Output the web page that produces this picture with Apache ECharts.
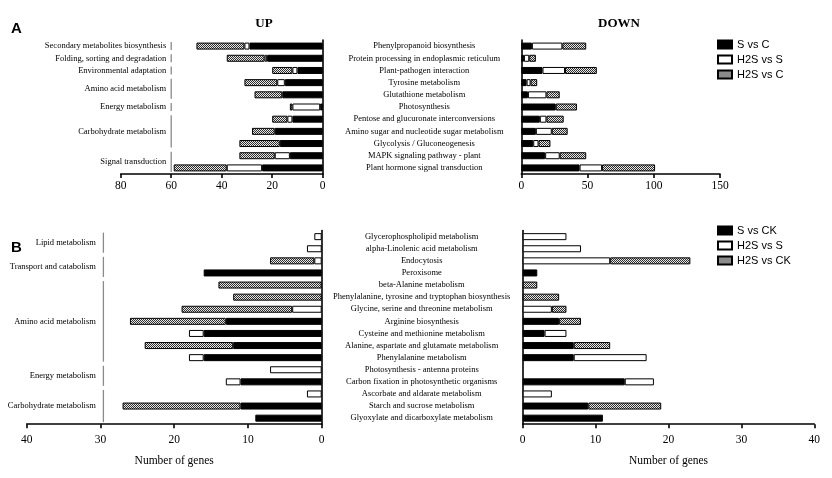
<!DOCTYPE html>
<html>
<head>
<meta charset="utf-8">
<script src="https://cdn.jsdelivr.net/npm/echarts@6/dist/echarts.min.js"></script>
<style>html,body{margin:0;padding:0;background:#fff;}#c{width:832px;height:478px;}</style>
</head>
<body>
<div id="c"></div>
<script>
// ---------- Panel A data (top to bottom) ----------
const upARows = ['Secondary metabolites biosynthesis','Folding, sorting and degradation','Environmental adaptation','Amino acid metabolism 1','Amino acid metabolism 2','Energy metabolism','Carbohydrate metabolism 1','Carbohydrate metabolism 2','Carbohydrate metabolism 3','Signal transduction 1','Signal transduction 2'];
const upAGroups = [['Secondary metabolites biosynthesis',0,0],['Folding, sorting and degradation',1,1],['Environmental adaptation',2,2],['Amino acid metabolism',3,4],['Energy metabolism',5,5],['Carbohydrate metabolism',6,8],['Signal transduction',9,10]];
const upA_SvsC   = [29,22,10,15,16,1,12,19,17,13,24];
const upA_H2SvsS = [2,1,2,3,0,11,2,0,0,6,14];
const upA_H2SvsC = [19,15,8,13,11,1,6,9,16,14,21];

const downACats = ['Phenylpropanoid biosynthesis','Protein processing in endoplasmic reticulum','Plant-pathogen interaction','Tyrosine metabolism','Glutathione metabolism','Photosynthesis','Pentose and glucuronate interconversions','Amino sugar and nucleotide sugar metabolism','Glycolysis / Gluconeogenesis','MAPK signaling pathway - plant','Plant hormone signal transduction'];
const downA_SvsC   = [8,2,16,4,5,26,14,11,9,18,44];
const downA_H2SvsS = [23,4,17,3,14,0,5,12,4,11,17];
const downA_H2SvsC = [18,5,24,5,10,16,13,12,9,20,40];

// ---------- Panel B data (top to bottom) ----------
const upBRows = ['r1','r2','r3','r4','r5','r6','r7','r8','r9','r10','r11','r12','r13','r14','r15','r16'];
const upBGroups = [['Lipid metabolism',0,1],['Transport and catabolism',2,3],['Amino acid metabolism',4,10],['Energy metabolism',11,12],['Carbohydrate metabolism',13,15]];
const upB_SvsCK   = [0,0,0,16,0,0,0,13,16,12,16,0,11,0,11,9];
const upB_H2SvsS  = [1,2,1,0,0,0,4,0,2,0,2,7,2,2,0,0];
const upB_H2SvsCK = [0,0,6,0,14,12,15,13,0,12,0,0,0,0,16,0];

const downBCats = ['Glycerophospholipid metabolism','alpha-Linolenic acid metabolism','Endocytosis','Peroxisome','beta-Alanine metabolism','Phenylalanine, tyrosine and tryptophan biosynthesis','Glycine, serine and threonine metabolism','Arginine biosynthesis','Cysteine and methionine metabolism','Alanine, aspartate and glutamate metabolism','Phenylalanine metabolism','Photosynthesis - antenna proteins','Carbon fixation in photosynthetic organisms','Ascorbate and aldarate metabolism','Starch and sucrose metabolism','Glyoxylate and dicarboxylate metabolism'];
const downB_SvsCK   = [0,0,0,2,0,0,0,5,3,7,7,0,14,0,9,11];
const downB_H2SvsS  = [6,8,12,0,0,0,4,0,3,0,10,0,4,4,0,0];
const downB_H2SvsCK = [0,0,11,0,2,5,2,3,0,5,0,0,0,0,10,0];

const tickA_up = [0,20,40,60,80];
const tickA_down = [0,50,100,150];
const tickB = [0,10,20,30,40];

// ---------- styles ----------
const SERIF = '"Liberation Serif","DejaVu Serif",serif';
const SANS = '"Liberation Sans",Arial,sans-serif';
function makePattern(){
  const c = document.createElement('canvas'); c.width = 4; c.height = 4;
  const g = c.getContext('2d');
  g.fillStyle = '#e8e8e8'; g.fillRect(0,0,4,4);
  g.fillStyle = '#2e2e2e';
  [[0,0],[2,0],[1,1],[3,1],[0,2],[2,2],[1,3],[3,3]].forEach(p=>g.fillRect(p[0],p[1],1,1));
  return {image: c, repeat: 'repeat'};
}
const hatch = makePattern();
const fills = ['#000000','#ffffff',hatch];
const nz = arr => arr.map(v => v === 0 ? '-' : v);

const chart = echarts.init(document.getElementById('c'), null, {renderer:'canvas'});

const gridsDef = [
  {left:120.7, top:40, width:202, height:134},
  {left:521.3, top:40, width:198.7, height:134},
  {left:26.7, top:230.6, width:295, height:193.6},
  {left:522.7, top:230.6, width:291.6, height:193.6}
];

function xAx(idx, max, interval, inverse, margin, withName){
  return {
    gridIndex: idx, type:'value', min:0, max:max, interval:interval, inverse:inverse,
    splitLine:{show:false},
    axisLine:{show:true, lineStyle:{color:'#000', width:1.6}},
    axisTick:{show:true, length:4, lineStyle:{color:'#000', width:1.6}},
    axisLabel:{show:true, color:'#000', fontFamily:SERIF, fontSize:11.5, margin:margin, showMinLabel:true, showMaxLabel:true},
    name: withName ? 'Number of genes' : '', nameLocation:'middle', nameGap:31,
    nameTextStyle:{color:'#000', fontFamily:SERIF, fontSize:11.5}
  };
}
function yAx(idx, cats, showLabel, margin){
  return {
    gridIndex: idx, type:'category', data:cats, inverse:true,
    axisLine:{show:true, onZero:true, lineStyle:{color:'#000', width:1.6}},
    axisTick:{show:false},
    splitLine:{show:false},
    axisLabel:{show:showLabel, color:'#000', fontFamily:SERIF, fontSize:8.5, align:'center', margin:margin, interval:0}
  };
}

function barSeries(names, dataSets, axisIdx){
  return names.map((n,i)=>({
    name:n, type:'bar', stack:'s'+axisIdx, xAxisIndex:axisIdx, yAxisIndex:axisIdx,
    barWidth:7, data:nz(dataSets[i]),
    itemStyle:{color:fills[i], borderColor:'#000', borderWidth:1},
    emphasis:{disabled:true}
  }));
}

function groupSeries(groups, axisIdx, lineValue, gap){
  return {
    type:'custom', xAxisIndex:axisIdx, yAxisIndex:axisIdx, silent:true, clip:false,
    encode:{x:0, y:1},
    data: groups.map(g=>[lineValue, g[1], g[2]]),
    renderItem: function(params, api){
      const p1 = api.coord([api.value(0), api.value(1)]);
      const p2 = api.coord([api.value(0), api.value(2)]);
      return {type:'group', children:[
        {type:'line', shape:{x1:p1[0], y1:p1[1]-4, x2:p2[0], y2:p2[1]+4}, style:{stroke:'#8a8a8a', lineWidth:1.3}},
        {type:'text', x:p1[0]-gap, y:(p1[1]+p2[1])/2, style:{text:groups[params.dataIndex][0], align:'right', verticalAlign:'middle', fontSize:8.5, fontFamily:SERIF, fill:'#000'}}
      ]};
    }
  };
}

const option = {
  animation:false,
  backgroundColor:'#fff',
  title:[
    {text:'A', left:11, top:21, padding:0, textStyle:{fontFamily:SANS, fontWeight:'bold', fontSize:15, color:'#000'}},
    {text:'UP', left:264, top:17, padding:0, textAlign:'center', textStyle:{fontFamily:SERIF, fontWeight:'bold', fontSize:13, color:'#000'}},
    {text:'DOWN', left:619, top:17, padding:0, textAlign:'center', textStyle:{fontFamily:SERIF, fontWeight:'bold', fontSize:13, color:'#000'}},
    {text:'B', left:11, top:240, padding:0, textStyle:{fontFamily:SANS, fontWeight:'bold', fontSize:15, color:'#000'}}
  ],
  legend:[
    {data:['S vs C','H2S vs S','H2S vs C'], orient:'vertical', left:717, top:39, icon:'rect', itemWidth:14, itemHeight:8, itemGap:4, padding:0,
     textStyle:{fontFamily:SANS, fontSize:11, color:'#000'}, selectedMode:false},
    {data:['S vs CK','H2S vs S','H2S vs CK'], orient:'vertical', left:717, top:225, icon:'rect', itemWidth:14, itemHeight:8, itemGap:4, padding:0,
     textStyle:{fontFamily:SANS, fontSize:11, color:'#000'}, selectedMode:false}
  ],
  grid: gridsDef.map(g=>Object.assign({containLabel:false}, g)),
  xAxis:[
    xAx(0, 80, 20, true, 6, false),
    xAx(1, 150, 50, false, 6, false),
    xAx(2, 40, 10, true, 10, true),
    xAx(3, 40, 10, false, 10, true)
  ],
  yAxis:[
    yAx(0, upARows, false, 0),
    yAx(1, downACats, true, 97),
    yAx(2, upBRows, false, 0),
    yAx(3, downBCats, true, 101)
  ],
  series:[].concat(
    barSeries(['S vs C','H2S vs S','H2S vs C'], [upA_SvsC, upA_H2SvsS, upA_H2SvsC], 0),
    barSeries(['S vs C','H2S vs S','H2S vs C'], [downA_SvsC, downA_H2SvsS, downA_H2SvsC], 1),
    barSeries(['S vs CK','H2S vs S','H2S vs CK'], [upB_SvsCK, upB_H2SvsS, upB_H2SvsCK], 2),
    barSeries(['S vs CK','H2S vs S','H2S vs CK'], [downB_SvsCK, downB_H2SvsS, downB_H2SvsCK], 3),
    [groupSeries(upAGroups, 0, 60, 5), groupSeries(upBGroups, 2, 29.6, 7.5)]
  )
};
chart.setOption(option);
</script>
</body>
</html>
